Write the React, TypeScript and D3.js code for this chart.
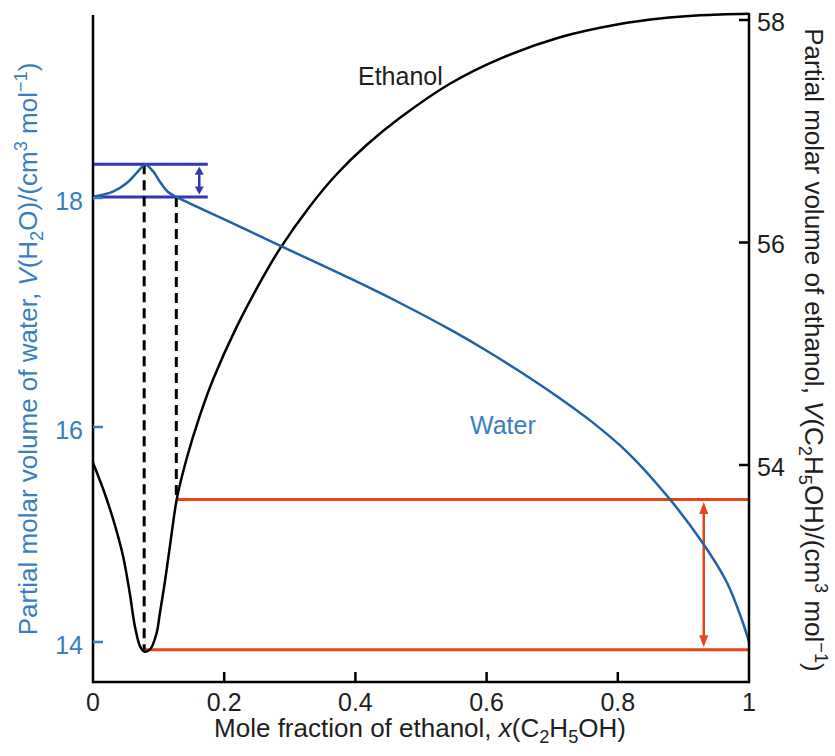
import React from 'react';
import * as d3 from 'd3';

// axis ticks
const xTicks = [0, 0.2, 0.4, 0.6, 0.8, 1];
const waterTicks = [14, 16, 18];
const ethanolTicks = [54, 56, 58];

// partial molar volume of ethanol vs mole fraction of ethanol
const ethanolX = [0, 0.016, 0.031, 0.046, 0.056, 0.064, 0.072, 0.078, 0.087, 0.097, 0.102, 0.11, 0.12, 0.128, 0.143, 0.163, 0.183, 0.219, 0.26, 0.285, 0.331, 0.371, 0.417, 0.468, 0.544, 0.62, 0.712, 0.803, 0.864, 0.925, 1];
const ethanolV = [54.021, 53.775, 53.506, 53.176, 52.849, 52.546, 52.367, 52.324, 52.342, 52.49, 52.67, 52.966, 53.389, 53.703, 54.063, 54.446, 54.769, 55.242, 55.697, 55.945, 56.328, 56.611, 56.876, 57.121, 57.427, 57.651, 57.845, 57.964, 58.014, 58.043, 58.057];

// partial molar volume of water vs mole fraction of ethanol
const waterX = [0, 0.0305, 0.051, 0.066, 0.075, 0.08, 0.092, 0.102, 0.114, 0.127, 0.209, 0.285, 0.392, 0.468, 0.544, 0.595, 0.646, 0.712, 0.763, 0.814, 0.875, 0.93, 0.966, 0.989, 1];
const waterV = [18.009, 18.055, 18.128, 18.216, 18.273, 18.293, 18.23, 18.142, 18.055, 18.009, 17.79, 17.584, 17.297, 17.083, 16.852, 16.683, 16.502, 16.249, 16.034, 15.769, 15.36, 14.917, 14.558, 14.209, 14.0];

// annotation values
const waterLevels = [18.009, 18.295];
const ethanolLevels = [52.34, 53.69];
const maxWaterX = 0.078;
const kneeX = 0.127;
const waterBandEnd = 0.175;
const waterArrowX = 0.162;
const ethanolArrowX = 0.931;

const W = 835;
const H = 756;
const FONT = '"Liberation Sans", Arial, Helvetica, sans-serif';
const FS = 25;
const TITLE_FS = 26;
const BLUE_TEXT = '#3a7ebf';
const WATER = '#1f62a8';
const BAND = '#3535b5';
const RED = '#e8441c';

function VArrow({ x, y1, y2, color, hw, hl, sw }: { x: number; y1: number; y2: number; color: string; hw: number; hl: number; sw: number }) {
  return (
    <g>
      <line x1={x} x2={x} y1={y1 + hl - 1} y2={y2 - hl + 1} stroke={color} strokeWidth={sw} />
      <path d={`M${x},${y1} L${x - hw / 2},${y1 + hl} L${x + hw / 2},${y1 + hl} Z`} fill={color} />
      <path d={`M${x},${y2} L${x - hw / 2},${y2 - hl} L${x + hw / 2},${y2 - hl} Z`} fill={color} />
    </g>
  );
}

export default function App() {
  const x = d3.scaleLinear().domain([0, 1]).range([93, 749]);
  const yW = d3.scaleLinear().domain([14, 16, 18]).range([642, 427, 198]);
  const yE = d3.scaleLinear().domain([54, 58]).range([465, 20]);
  const bottom = 682;

  const ethanolLine = d3.line<number>()
    .x((_, i) => x(ethanolX[i]))
    .y(d => yE(d))
    .curve(d3.curveCatmullRom.alpha(0.5));
  const waterLine = d3.line<number>()
    .x((_, i) => x(waterX[i]))
    .y(d => yW(d))
    .curve(d3.curveCatmullRom.alpha(0.5));

  const sub = (t: string) => (
    <>
      <tspan dy={6} fontSize={TITLE_FS * 0.7}>{t}</tspan>
      <tspan dy={-6}>{'\u200B'}</tspan>
    </>
  );
  const sup = (t: string) => (
    <>
      <tspan dy={-10} fontSize={TITLE_FS * 0.7}>{t}</tspan>
      <tspan dy={10}>{'\u200B'}</tspan>
    </>
  );

  return (
    <svg width={W} height={H} style={{ position: 'absolute', left: 0, top: 0, background: '#fff' }}
      fontFamily={FONT} fontSize={FS}>

      {/* blue bands (water) */}
      {waterLevels.map(v => (
        <line key={v} x1={x(0)} x2={x(waterBandEnd)} y1={yW(v)} y2={yW(v)} stroke={BAND} strokeWidth={3} />
      ))}
      <VArrow x={x(waterArrowX)} y1={yW(waterLevels[1]) + 2.5} y2={yW(waterLevels[0]) - 2.5}
        color={BAND} hw={9} hl={8} sw={2.5} />

      {/* red bands (ethanol) */}
      <line x1={x(kneeX)} x2={x(1)} y1={yE(ethanolLevels[1])} y2={yE(ethanolLevels[1])} stroke={RED} strokeWidth={3} />
      <line x1={x(maxWaterX)} x2={x(1)} y1={yE(ethanolLevels[0])} y2={yE(ethanolLevels[0])} stroke={RED} strokeWidth={3} />
      <VArrow x={x(ethanolArrowX)} y1={yE(ethanolLevels[1]) + 2.5} y2={yE(ethanolLevels[0]) - 2.5}
        color={RED} hw={9} hl={12} sw={2.5} />

      {/* dashed guides */}
      <line x1={x(maxWaterX)} x2={x(maxWaterX)} y1={yW(waterLevels[1])} y2={yE(ethanolLevels[0])}
        stroke="#000" strokeWidth={3} strokeDasharray="10,6" />
      <line x1={x(kneeX)} x2={x(kneeX)} y1={yW(waterLevels[0])} y2={yE(ethanolLevels[1])}
        stroke="#000" strokeWidth={3} strokeDasharray="10,6" />

      {/* curves */}
      <path d={ethanolLine(ethanolV) ?? ''} fill="none" stroke="#000" strokeWidth={2.5} />
      <path d={waterLine(waterV) ?? ''} fill="none" stroke={WATER} strokeWidth={2.5} />

      {/* axes */}
      <line x1={x(0)} x2={x(0)} y1={15} y2={bottom + 1.25} stroke="#000" strokeWidth={2.5} />
      <line x1={x(1)} x2={x(1)} y1={13} y2={bottom + 1.25} stroke="#000" strokeWidth={2.5} />
      <line x1={x(0)} x2={x(1)} y1={bottom} y2={bottom} stroke="#000" strokeWidth={2.5} />

      {xTicks.map(t => (
        <g key={t}>
          {t > 0 && t < 1 && (
            <line x1={x(t)} x2={x(t)} y1={bottom} y2={bottom - 10} stroke="#000" strokeWidth={2.5} />
          )}
          <text x={x(t)} y={711} textAnchor="middle" fill="#1e1e1e">{t}</text>
        </g>
      ))}
      {waterTicks.map(t => (
        <g key={t}>
          <line x1={x(0)} x2={x(0) + 10} y1={yW(t)} y2={yW(t)} stroke={BLUE_TEXT} strokeWidth={2.5} />
          <text x={83} y={yW(t) + 12} textAnchor="end" fill={BLUE_TEXT}>{t}</text>
        </g>
      ))}
      {ethanolTicks.map(t => (
        <g key={t}>
          <line x1={x(1)} x2={x(1) - 10} y1={yE(t)} y2={yE(t)} stroke="#000" strokeWidth={2.5} />
          <text x={757} y={yE(t) + 10.5} fill="#1e1e1e">{t}</text>
        </g>
      ))}

      {/* series labels */}
      <text x={358} y={85} fill="#1e1e1e">Ethanol</text>
      <text x={470} y={434} fill={BLUE_TEXT}>Water</text>

      {/* axis titles */}
      <text x={420} y={737} textAnchor="middle" fill="#1e1e1e" fontSize={TITLE_FS}>
        Mole fraction of ethanol, <tspan fontStyle="italic">x</tspan>(C{sub('2')}H{sub('5')}OH)
      </text>
      <text transform="translate(37,349) rotate(-90)" textAnchor="middle" fill={BLUE_TEXT} fontSize={TITLE_FS}>
        Partial molar volume of water, <tspan fontStyle="italic">V</tspan>(H{sub('2')}O)/(cm{sup('3')} mol{sup('\u22121')})
      </text>
      <text transform="translate(805,350) rotate(90)" textAnchor="middle" fill="#1e1e1e" fontSize={TITLE_FS}>
        Partial molar volume of ethanol, <tspan fontStyle="italic">V</tspan>(C{sub('2')}H{sub('5')}OH)/(cm{sup('3')} mol{sup('\u22121')})
      </text>
    </svg>
  );
}
